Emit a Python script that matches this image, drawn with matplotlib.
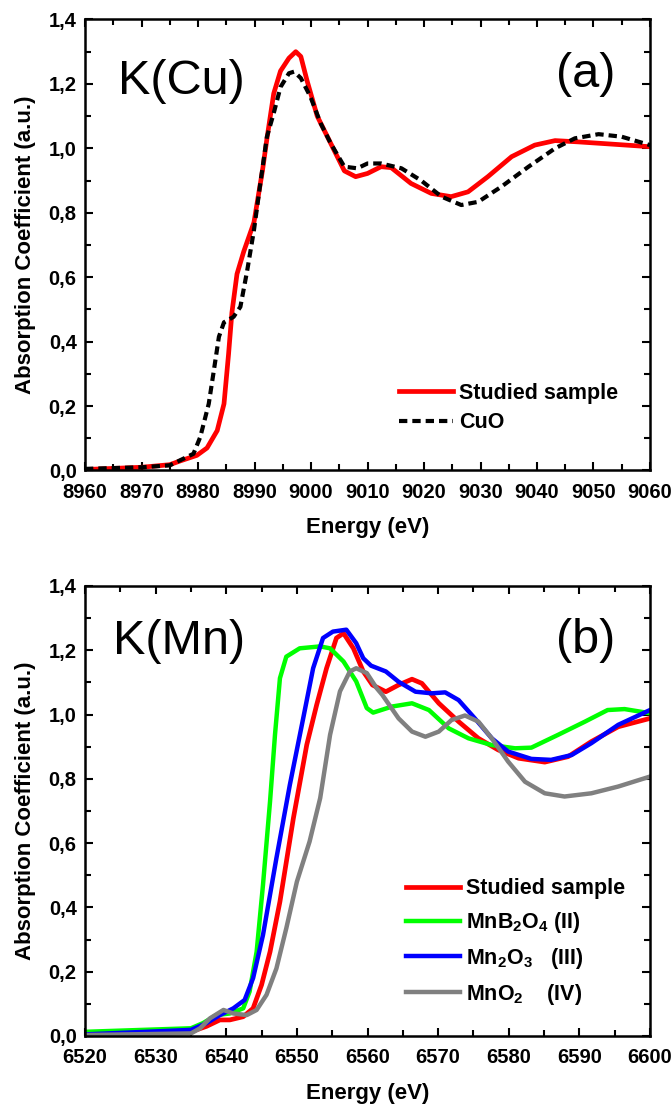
import matplotlib
matplotlib.use("Agg")
from matplotlib import pyplot as plt
from matplotlib.ticker import MultipleLocator, FuncFormatter

# --- (a) Cu K-edge ---
cu_sample_e = [8960, 8970, 8975, 8976.9, 8979.8, 8981.6, 8983.4, 8984.6, 8985.4, 8986.0,
               8986.9, 8988.1, 8989.9, 8991.4, 8992.2, 8993.4, 8994.6, 8996.1, 8997.3, 8998.2,
               8999.3, 9001.1, 9003.5, 9005.9, 9007.9, 9010.0, 9012.4, 9014.2, 9017.7, 9021.3,
               9024.8, 9027.8, 9031.3, 9035.5, 9039.6, 9043.2, 9047.3, 9053.3, 9060]
cu_sample_mu = [0.003, 0.010, 0.018, 0.030, 0.047, 0.070, 0.124, 0.207, 0.360, 0.490,
                0.610, 0.680, 0.770, 0.930, 1.030, 1.170, 1.240, 1.280, 1.300, 1.285,
                1.210, 1.100, 1.015, 0.930, 0.912, 0.922, 0.943, 0.940, 0.891, 0.860,
                0.850, 0.865, 0.912, 0.974, 1.010, 1.024, 1.020, 1.013, 1.005]

cuo_e = [8960, 8970, 8975, 8979.2, 8980.4, 8981.9, 8982.8, 8983.7, 8984.6, 8986.3,
         8987.5, 8988.7, 8989.9, 8991.1, 8992.2, 8993.4, 8994.6, 8996.1, 8997.0, 8998.2,
         8999.9, 9001.7, 9003.5, 9005.9, 9008.2, 9010.0, 9012.4, 9016.0, 9019.5, 9023.1,
         9026.6, 9029.6, 9033.7, 9038.5, 9043.2, 9046.7, 9050.9, 9055.0, 9060]
cuo_mu = [0.005, 0.010, 0.016, 0.052, 0.104, 0.207, 0.310, 0.415, 0.460, 0.477,
          0.508, 0.620, 0.746, 0.900, 1.036, 1.109, 1.190, 1.233, 1.238, 1.218,
          1.160, 1.078, 1.015, 0.943, 0.938, 0.953, 0.953, 0.938, 0.900, 0.850,
          0.824, 0.834, 0.881, 0.943, 1.000, 1.031, 1.044, 1.036, 1.010]

# --- (b) Mn K-edge ---
mn_sample_e = [6520, 6535, 6537.2, 6539.1, 6540.5, 6542.4, 6543.8, 6545.0, 6546.2, 6547.6,
               6549.5, 6551.4, 6552.8, 6554.2, 6555.6, 6556.6, 6558.0, 6559.4, 6560.7, 6562.6,
               6564.4, 6566.3, 6567.7, 6570.1, 6572.9, 6575.7, 6578.5, 6581.4, 6585.1, 6588.4,
               6591.7, 6595.5, 6600]
mn_sample_mu = [0.005, 0.013, 0.030, 0.050, 0.050, 0.060, 0.086, 0.159, 0.262, 0.418,
                0.677, 0.906, 1.030, 1.144, 1.238, 1.253, 1.206, 1.134, 1.092, 1.071,
                1.092, 1.110, 1.097, 1.035, 0.978, 0.926, 0.890, 0.864, 0.852, 0.869,
                0.916, 0.962, 0.988]

mnb2o4_e = [6520, 6535, 6536.7, 6538.6, 6540.5, 6542.4, 6543.3, 6544.3, 6545.2, 6546.2,
            6546.9, 6547.6, 6548.5, 6550.4, 6553.3, 6554.7, 6556.6, 6558.4, 6559.9, 6560.8,
            6563.5, 6566.3, 6568.7, 6571.5, 6574.3, 6577.6, 6580.9, 6583.2, 6587.0, 6590.8,
            6594.0, 6596.4, 6600]
mnb2o4_mu = [0.013, 0.024, 0.040, 0.065, 0.070, 0.086, 0.138, 0.262, 0.470, 0.730,
             0.937, 1.113, 1.180, 1.206, 1.212, 1.206, 1.165, 1.103, 1.020, 1.006,
             1.025, 1.035, 1.014, 0.957, 0.926, 0.905, 0.895, 0.897, 0.937, 0.978,
             1.014, 1.017, 1.004]

mn2o3_e = [6520, 6535, 6537.2, 6539.1, 6541.0, 6542.6, 6543.8, 6545.2, 6547.1, 6549.0,
           6550.9, 6552.3, 6553.7, 6555.1, 6557.0, 6558.4, 6559.4, 6560.5, 6562.6, 6564.4,
           6566.8, 6569.1, 6571.0, 6572.9, 6575.2, 6577.6, 6579.9, 6583.2, 6586.0, 6588.9,
           6591.7, 6595.5, 6600]
mn2o3_mu = [0.005, 0.019, 0.040, 0.065, 0.086, 0.112, 0.180, 0.314, 0.553, 0.781,
            0.989, 1.144, 1.238, 1.258, 1.264, 1.222, 1.175, 1.152, 1.134, 1.102,
            1.071, 1.066, 1.069, 1.045, 0.988, 0.926, 0.885, 0.862, 0.859, 0.874,
            0.911, 0.968, 1.014]

mno2_e = [6520, 6535, 6536.3, 6537.7, 6539.6, 6541.0, 6542.9, 6544.3, 6545.7, 6547.1,
          6548.5, 6550.0, 6551.8, 6553.3, 6554.7, 6556.1, 6557.5, 6558.4, 6559.9, 6561.3,
          6562.1, 6564.4, 6566.3, 6568.2, 6570.1, 6571.9, 6573.8, 6575.7, 6577.6, 6579.9,
          6582.3, 6585.1, 6587.9, 6591.7, 6595.5, 6600]
mno2_mu = [0.003, 0.008, 0.024, 0.055, 0.081, 0.070, 0.065, 0.081, 0.128, 0.210,
           0.335, 0.480, 0.605, 0.740, 0.937, 1.072, 1.134, 1.144, 1.129, 1.082,
           1.061, 0.988, 0.947, 0.931, 0.947, 0.983, 0.997, 0.978, 0.926, 0.854,
           0.791, 0.755, 0.745, 0.755, 0.776, 0.807]

plt.rcParams["font.family"] = ["Liberation Sans", "DejaVu Sans"]
plt.rcParams["font.weight"] = "bold"
plt.rcParams["axes.labelweight"] = "bold"
plt.rcParams["mathtext.fontset"] = "custom"
plt.rcParams["mathtext.rm"] = "Liberation Sans:bold"
plt.rcParams["mathtext.it"] = "Liberation Sans:bold"
plt.rcParams["mathtext.bf"] = "Liberation Sans:bold"
plt.rcParams["lines.solid_joinstyle"] = "round"

comma = FuncFormatter(lambda v, pos: f"{v:.1f}".replace(".", ","))


def style_axes(ax, xmin, xmax):
    ax.set_xlim(xmin, xmax)
    ax.set_ylim(0, 1.4)
    ax.xaxis.set_major_locator(MultipleLocator(10))
    ax.xaxis.set_minor_locator(MultipleLocator(5))
    ax.yaxis.set_major_locator(MultipleLocator(0.2))
    ax.yaxis.set_minor_locator(MultipleLocator(0.1))
    ax.yaxis.set_major_formatter(comma)
    ax.tick_params(which="both", direction="in", top=True, right=True, width=1.5)
    ax.tick_params(which="major", length=6, labelsize=14.5)
    ax.tick_params(axis="x", which="major", pad=9)
    ax.tick_params(axis="y", which="major", pad=6)
    ax.tick_params(which="minor", length=4)
    for s in ax.spines.values():
        s.set_linewidth(1.8)
    ax.set_xlabel("Energy (eV)", fontsize=16, labelpad=11)
    ax.set_ylabel("Absorption Coefficient (a.u.)", fontsize=16, labelpad=9)


fig = plt.figure(figsize=(6.71, 11.06), dpi=100)

ax1 = fig.add_axes([0.1267, 0.5746, 0.842, 0.4078])
ax1.plot(cu_sample_e, cu_sample_mu, color="#ff0000", lw=3.4, label="Studied sample")
ax1.plot(cuo_e, cuo_mu, color="black", lw=3, dashes=(2, 1.2), label="CuO")
style_axes(ax1, 8960, 9060)
ax1.text(0.058, 0.834, "K(Cu)", transform=ax1.transAxes, fontsize=35,
         fontweight="normal", va="baseline", ha="left")
ax1.text(0.938, 0.85, "(a)", transform=ax1.transAxes, fontsize=35,
         fontweight="normal", va="baseline", ha="right")
ax1.legend(loc="upper left", bbox_to_anchor=(0.556, 0.195), frameon=False,
           fontsize=15.5, handlelength=2.5, handletextpad=0.3, labelspacing=0.4,
           borderpad=0, borderaxespad=0)

ax2 = fig.add_axes([0.1267, 0.0633, 0.842, 0.4069])
ax2.plot(mn_sample_e, mn_sample_mu, color="#ff0000", lw=3.4, label="Studied sample")
ax2.plot(mnb2o4_e, mnb2o4_mu, color="#00ff00", lw=3.2, label="MnB$_2$O$_4$ (II)")
ax2.plot(mn2o3_e, mn2o3_mu, color="#0000ff", lw=3.2, label="Mn$_2$O$_3$   (III)")
ax2.plot(mno2_e, mno2_mu, color="#808080", lw=3.2, label="MnO$_2$    (IV)")
style_axes(ax2, 6520, 6600)
ax2.text(0.05, 0.849, "K(Mn)", transform=ax2.transAxes, fontsize=35,
         fontweight="normal", va="baseline", ha="left")
ax2.text(0.938, 0.85, "(b)", transform=ax2.transAxes, fontsize=35,
         fontweight="normal", va="baseline", ha="right")
ax2.legend(loc="upper left", bbox_to_anchor=(0.568, 0.35), frameon=False,
           fontsize=15.5, handlelength=2.5, handletextpad=0.3, labelspacing=0.5,
           borderpad=0, borderaxespad=0)

plt.savefig("out.png", dpi=100)
